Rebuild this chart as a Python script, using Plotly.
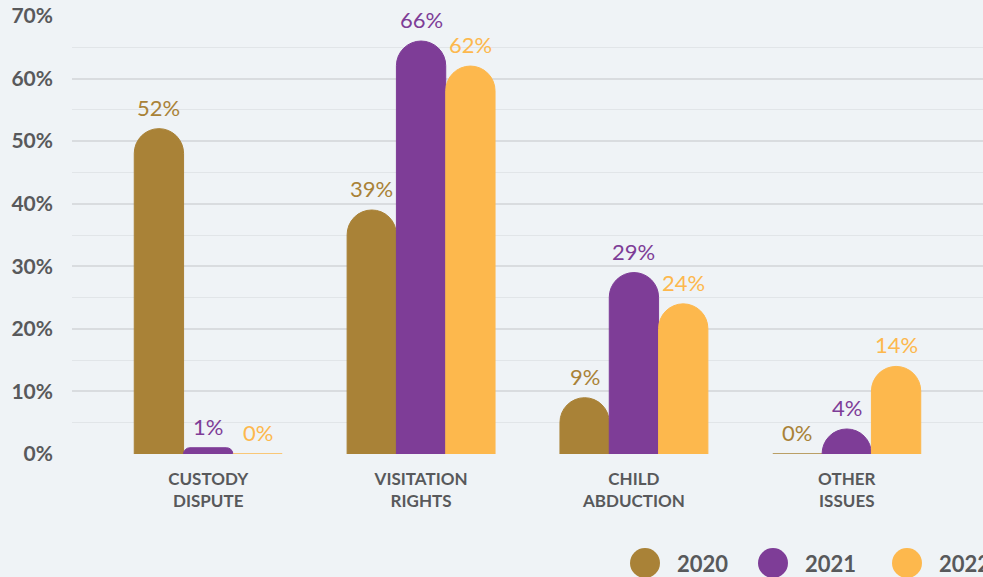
import plotly.graph_objects as go

categories = ["CUSTODY<br>DISPUTE", "VISITATION<br>RIGHTS", "CHILD<br>ABDUCTION", "OTHER<br>ISSUES"]
years = ["2020", "2021", "2022"]
values_2020 = [52, 39, 9, 0]
values_2021 = [1, 66, 29, 4]
values_2022 = [0, 62, 24, 14]
series = [values_2020, values_2021, values_2022]
colors = ["#A98237", "#7E3D97", "#FDB84D"]
y_ticks = [0, 10, 20, 30, 40, 50, 60, 70]

W, H = 983, 577
ML, MR, MT, MB = 72, 0, 16, 123
xrange_ = [-0.64, 3.64]
bargap = 0.305

fig = go.Figure()
for yr, vals, col in zip(years, series, colors):
    fig.add_trace(go.Bar(
        x=categories, y=vals, name=yr,
        marker=dict(color=col, cornerradius="50%", line=dict(width=1, color=col)),
        showlegend=False, hoverinfo="skip",
    ))

# value labels
plot_w = W - ML - MR
plot_h = H - MT - MB
px_per_cat = plot_w / (xrange_[1] - xrange_[0])
bar_w = px_per_cat * (1 - bargap) / 3
annotations = []
for i, (vals, col) in enumerate(zip(series, colors)):
    for c, v in zip(categories, vals):
        annotations.append(dict(
            x=c, y=v, xref="x", yref="y", text=f"{v}%", showarrow=False,
            xshift=(i - 1) * bar_w, yshift=6, yanchor="bottom",
            font=dict(family="Lato", size=22, color=col),
        ))

# custom legend
leg_x = [645, 773, 907]
leg_y = 563
shapes = []
for lx, yr, col in zip(leg_x, years, colors):
    shapes.append(dict(type="circle", xref="paper", yref="paper",
                       x0=(lx - 15 - ML) / plot_w, x1=(lx + 15 - ML) / plot_w,
                       y0=-(leg_y + 15 - (H - MB)) / plot_h, y1=-(leg_y - 15 - (H - MB)) / plot_h,
                       fillcolor=col, line=dict(width=0)))
    annotations.append(dict(x=(lx + 30 - ML) / plot_w, y=-(leg_y - (H - MB)) / plot_h,
                            xref="paper", yref="paper", xanchor="left", yanchor="middle",
                            text=f"<b>{yr}</b>", showarrow=False,
                            font=dict(family="Lato", size=22, color="#58595B")))

fig.update_layout(
    width=W, height=H,
    margin=dict(l=ML, r=MR, t=MT, b=MB, pad=0),
    paper_bgcolor="#EFF3F6", plot_bgcolor="#EFF3F6",
    barmode="group", bargap=bargap, bargroupgap=0,
    font=dict(family="Lato", color="#58595B"),
    annotations=annotations, shapes=shapes,
    showlegend=False,
)
fig.update_xaxes(
    range=xrange_, showgrid=False, zeroline=False, showline=False,
    tickfont=dict(family="Lato", size=17, color="#58595B", weight="bold"),
    ticks="", ticklabelstandoff=13,
)
fig.update_yaxes(
    range=[0, 70], tickvals=y_ticks, ticktext=[f"<b>{t}%</b>" for t in y_ticks],
    tickfont=dict(family="Lato", size=21, color="#58595B"),
    showgrid=True, gridcolor="#D9DCDF", gridwidth=2,
    minor=dict(dtick=5, showgrid=True, gridcolor="#E1E5E8", gridwidth=1),
    zeroline=False, ticks="", ticklabelstandoff=18,
)
fig.write_html("out.html", config={"displayModeBar": False},
               post_script="document.body.style.margin='0';document.body.style.overflow='hidden';")
